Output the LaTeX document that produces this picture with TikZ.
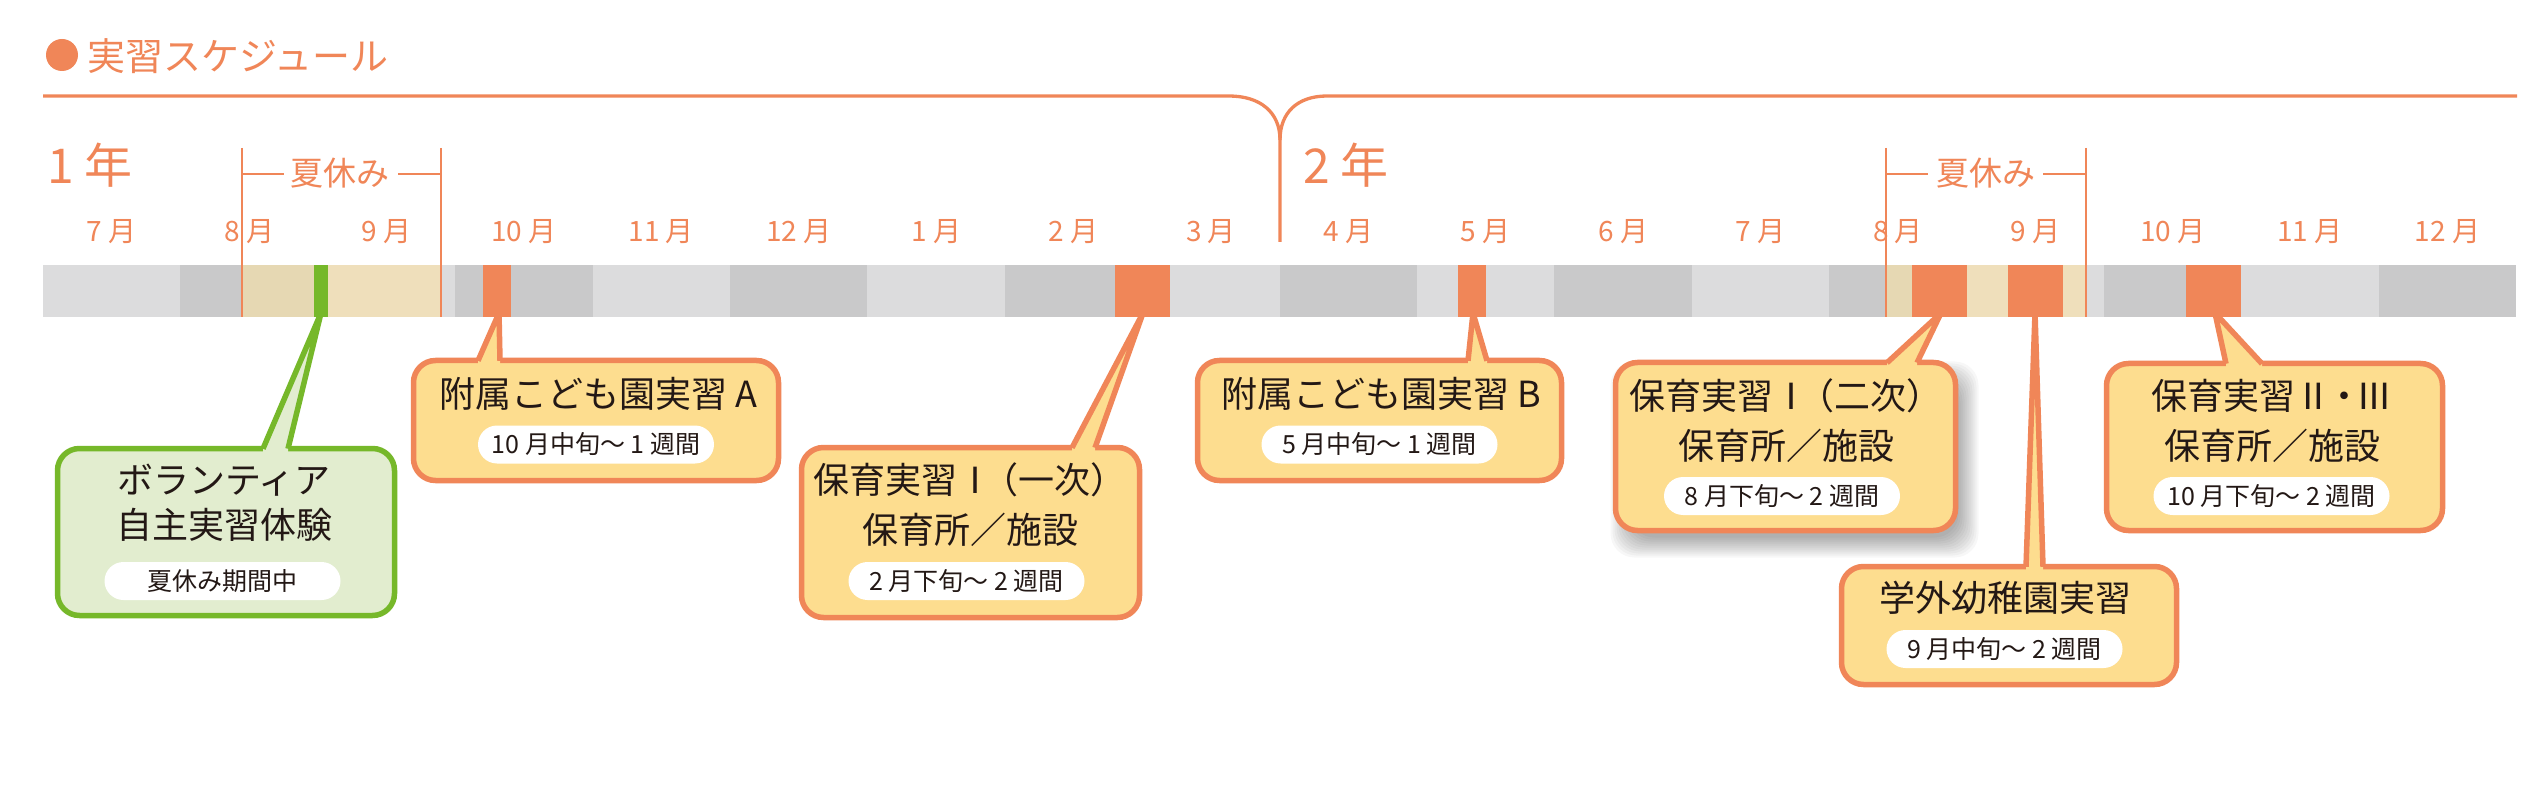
\documentclass[tikz,border=0pt]{standalone}
\usepackage{fontspec}
\setmainfont{Noto Sans CJK JP}
\usetikzlibrary{calc}
\definecolor{orn}{HTML}{F08658}
\definecolor{boxfill}{HTML}{FDDD8F}
\definecolor{grn}{HTML}{76B82A}
\definecolor{grnfill}{HTML}{E2EDCF}
\definecolor{lgray}{HTML}{DCDCDD}
\definecolor{dgray}{HTML}{C9C9CA}
\definecolor{tanA}{HTML}{E6D8B3}
\definecolor{tanB}{HTML}{EFDFBB}
\definecolor{ink}{HTML}{231815}
\newcommand\fsz[2]{\fontsize{#1}{#2}\selectfont}
\begin{document}
\begin{tikzpicture}[x=1pt,y=-1pt,
  lbl/.style={text=orn, inner sep=0pt},
  monthlbl/.style={lbl, font=\fsz{28}{34}},
  callbox/.style={draw=orn, fill=boxfill, line width=5.5pt, rounded corners=22pt, inner sep=0pt},
  greenbox/.style={callbox, draw=grn, fill=grnfill},
  head/.style={text=ink, inner sep=0pt, align=center, font=\fsz{36}{50}},
  pill/.style={fill=white, rounded corners=19pt, minimum width=236pt, minimum height=38pt, inner sep=0pt, text=ink, font=\fsz{25}{30}},
  ptrline/.style={draw=orn, line width=5.5pt, line join=miter},
  bracketline/.style={draw=orn, line width=1.8pt},
  mainline/.style={draw=orn, line width=3.3pt},
]
\useasboundingbox (0,0) rectangle (2540,799);
\fill[white] (0,0) rectangle (2540,799);

% ---------- title ----------
\fill[orn] (62,55) circle[radius=16pt];
\node[lbl, anchor=west, font=\fsz{38}{40}] (title) at (87,56) {実習スケジュール};

% ---------- year bracket ----------
\coordinate (yl) at (43,96);
\coordinate (yr) at (2517,96);
\coordinate (ym) at (1280,140);
\coordinate (yb) at (1280,242);
\draw[mainline] (yl) -- (1229,96) .. controls (1260,96) and (1280,112) .. (ym) -- (yb);
\draw[mainline] (ym) .. controls (1280,112) and (1298,96) .. (1327,96) -- (yr);
\node[lbl, anchor=west, font=\fsz{48}{52}] (year1) at (47,165) {1 年};
\node[lbl, anchor=west, font=\fsz{48}{52}] (year2) at (1303,165) {2 年};

% ---------- callouts (drawn below the bar) ----------
% green
\coordinate (gL) at (263,448.75); \coordinate (gR) at (288,448.75); \coordinate (gT) at (321,313);
\node[greenbox, minimum width=337pt, minimum height=167pt] (gbox) at (226,532) {};
\fill[grnfill] ($(gL)+(0,7)$) -- (gL) -- (gT) -- (gR) -- ($(gR)+(0,7)$) -- cycle;
\draw[ptrline, draw=grn] (gL) -- (gT) -- (gR);
\node[head, font=\fsz{36}{45}] (gtxt) at (224,503) {ボランティア\\自主実習体験};
\node[pill] (gpill) at (222.5,581) {夏休み期間中};

% A
\coordinate (aL) at (478,360.75); \coordinate (aR) at (500,360.75); \coordinate (aT) at (499,313);
\node[callbox, minimum width=365pt, minimum height=120pt] (abox) at (596,420.5) {};
\fill[boxfill] ($(aL)+(0,7)$) -- (aL) -- (aT) -- (aR) -- ($(aR)+(0,7)$) -- cycle;
\draw[ptrline] (aL) -- (aT) -- (aR);
\node[head] (atxt) at (598,394) {附属こども園実習 A};
\node[pill] (apill) at (596,444.5) {10 月中旬～ 1 週間};

% P1
\coordinate (p1L) at (1072,447.75); \coordinate (p1R) at (1095,447.75); \coordinate (p1T) at (1143,313);
\node[callbox, minimum width=338pt, minimum height=170pt] (p1box) at (970.5,532.5) {};
\fill[boxfill] ($(p1L)+(0,7)$) -- (p1L) -- (p1T) -- (p1R) -- ($(p1R)+(0,7)$) -- cycle;
\draw[ptrline] (p1L) -- (p1T) -- (p1R);
\node[head] (p1txt) at (970,505) {保育実習Ⅰ\kern-0.3em（一次）\\保育所／施設};
\node[pill] (p1pill) at (966.5,581) {2 月下旬～ 2 週間};

% B
\coordinate (bL) at (1468,360.75); \coordinate (bR) at (1487,360.75); \coordinate (bT) at (1473,313);
\node[callbox, minimum width=364pt, minimum height=120pt] (bbox) at (1379.5,420.5) {};
\fill[boxfill] ($(bL)+(0,7)$) -- (bL) -- (bT) -- (bR) -- ($(bR)+(0,7)$) -- cycle;
\draw[ptrline] (bL) -- (bT) -- (bR);
\node[head] (btxt) at (1381,394) {附属こども園実習 B};
\node[pill] (bpill) at (1379.5,444.5) {5 月中旬～ 1 週間};

% P2 (with shadow)
\foreach \e in {-6,-4,...,14}
  \fill[black, opacity=0.03, rounded corners=24pt] ({1615.5+9-\e},{362.5+13-\e}) rectangle ({1955.5+9+\e},{530.5+13+\e});
\coordinate (p2L) at (1887,362.75); \coordinate (p2R) at (1917,362.75); \coordinate (p2T) at (1941,313);
\node[callbox, minimum width=340pt, minimum height=168pt] (p2box) at (1785.5,446.5) {};
\fill[boxfill] ($(p2L)+(0,7)$) -- (p2L) -- (p2T) -- (p2R) -- ($(p2R)+(0,7)$) -- cycle;
\draw[ptrline] (p2L) -- (p2T) -- (p2R);
\node[head] (p2txt) at (1786,421) {保育実習Ⅰ\kern-0.3em（二次）\\保育所／施設};
\node[pill] (p2pill) at (1782,496) {8 月下旬～ 2 週間};

% K
\coordinate (kL) at (2026,566.75); \coordinate (kR) at (2043,566.75); \coordinate (kT) at (2035,313);
\node[callbox, minimum width=335pt, minimum height=118pt] (kbox) at (2009,625.5) {};
\fill[boxfill] ($(kL)+(0,7)$) -- (kL) -- (kT) -- (kR) -- ($(kR)+(0,7)$) -- cycle;
\draw[ptrline] (kL) -- (kT) -- (kR);
\node[head] (ktxt) at (2005,598) {学外幼稚園実習};
\node[pill] (kpill) at (2004.5,649) {9 月中旬～ 2 週間};

% P3
\coordinate (p3L) at (2226,363.75); \coordinate (p3R) at (2262,363.75); \coordinate (p3T) at (2215,313);
\node[callbox, minimum width=336pt, minimum height=167pt] (p3box) at (2274.5,447) {};
\fill[boxfill] ($(p3L)+(0,7)$) -- (p3L) -- (p3T) -- (p3R) -- ($(p3R)+(0,7)$) -- cycle;
\draw[ptrline] (p3L) -- (p3T) -- (p3R);
\node[head] (p3txt) at (2272,421) {保育実習Ⅱ\kern-0.15em・\kern-0.15emⅢ\\保育所／施設};
\node[pill] (p3pill) at (2271.5,496) {10 月下旬～ 2 週間};

% ---------- month bar ----------
\foreach \i in {0,2,...,16}
  \fill[lgray] ({43+137.4*\i},265) rectangle ({43+137.4*(\i+1)},317);
\foreach \i in {1,3,...,17}
  \fill[dgray] ({43+137.4*\i},265) rectangle ({43+137.4*(\i+1)},317);
% summer overlays
\fill[tanA] (242,265) rectangle (318.4,317);
\fill[tanB] (318.4,265) rectangle (441,317);
\fill[tanA] (1886,265) rectangle (1966.6,317);
\fill[tanB] (1966.6,265) rectangle (2086,317);
% practice blocks
\fill[grn] (314,265) rectangle (328,317);
\fill[orn] (483,265) rectangle (511,317);
\fill[orn] (1115,265) rectangle (1170,317);
\fill[orn] (1458,265) rectangle (1486,317);
\fill[orn] (1912,265) rectangle (1967,317);
\fill[orn] (2008,265) rectangle (2063,317);
\fill[orn] (2186,265) rectangle (2241,317);

% month labels
\foreach \m [count=\i from 0] in {7,8,9,10,11,12,1,2,3,4,5,6,7,8,9,10,11,12}
  \node[monthlbl] (m\i) at ({43+137.4*(\i+0.5)},232) {\m\ 月};

% ---------- summer brackets ----------
\draw[bracketline] (242,148) -- (242,317);
\draw[bracketline] (441,148) -- (441,317);
\draw[bracketline] (242,174) -- (284,174);
\draw[bracketline] (398,174) -- (441,174);
\node[lbl, font=\fsz{33}{36}] (sum1) at (340,173) {夏休み};
\draw[bracketline] (1886,148) -- (1886,317);
\draw[bracketline] (2086,148) -- (2086,317);
\draw[bracketline] (1886,174) -- (1928,174);
\draw[bracketline] (2043,174) -- (2086,174);
\node[lbl, font=\fsz{33}{36}] (sum2) at (1986,173) {夏休み};
\end{tikzpicture}
\end{document}
